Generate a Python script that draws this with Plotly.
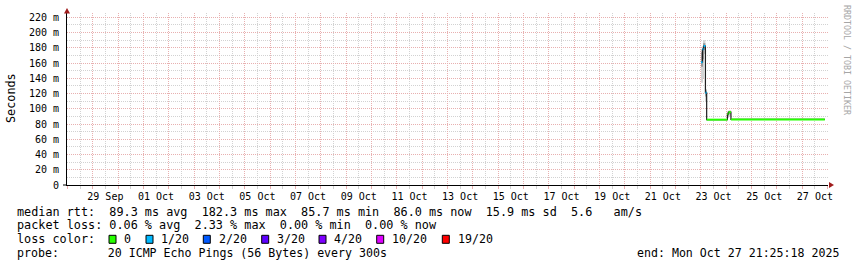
import plotly.graph_objects as go
import pandas as pd

# ---------------- data ----------------
step_start = ["2025-10-23 00:10:00", "2025-10-23 01:35:00", "2025-10-23 02:40:00", "2025-10-23 04:20:00",
              "2025-10-23 05:30:00", "2025-10-24 01:10:00", "2025-10-24 02:10:00", "2025-10-24 04:30:00"]
end_time = "2025-10-27 21:25:18"
median_ms = [161.0, 178.0, 182.3, 121.0, 85.7, 93.0, 95.5, 86.0]
loss_bucket = [1, 1, 1, 1, 0, 0, 0, 0]
smoke_lo = [134, 140, 172, 110, 85.4, 88, 90, 85.6]
smoke_hi = [178, 182, 190, 126, 86.3, 96, 98, 86.4]
core_lo = [155, 165, 180, 116, 85.6, 90, 93, 85.8]
core_hi = [174, 180, 186, 124, 86.0, 95, 97, 86.2]

loss_labels = ["0", "1/20", "2/20", "3/20", "4/20", "10/20", "19/20"]
loss_colors = ["#26ff00", "#00b8ff", "#0059ff", "#5e00ff", "#7e00ff", "#dd00ff", "#ff0000"]

x_label_days = ["2025-09-29", "2025-10-01", "2025-10-03", "2025-10-05", "2025-10-07",
                "2025-10-09", "2025-10-11", "2025-10-13", "2025-10-15", "2025-10-17",
                "2025-10-19", "2025-10-21", "2025-10-23", "2025-10-25", "2025-10-27"]
y_ticks = [0, 20, 40, 60, 80, 100, 120, 140, 160, 180, 200, 220]
y_tick_text = ["0", "20 m", "40 m", "60 m", "80 m", "100 m", "120 m", "140 m",
               "160 m", "180 m", "200 m", "220 m"]

rtt_stats = ["89.3", "182.3", "85.7", "86.0", "15.9"]
rtt_am_s = "5.6"
loss_stats = ["0.06", "2.33", "0.00", "0.00"]
probe_text = "20 ICMP Echo Pings (56 Bytes) every 300s"
end_text = "end: Mon Oct 27 21:25:18 2025"

x_range = ["2025-09-27 23:39:40", "2025-10-28 00:25:40"]
y_range = [0, 225.6]

# ---------------- layout helpers ----------------
L, R, T, B, W, H = 67, 29, 13, 82, 857, 267
PW, PH = W - L - R, H - T - B


def px(x):
    return (x - L) / PW


def py(y):
    return (H - B - y) / PH


MONO = "DejaVu Sans Mono"
GRID_GRAY = "#d2d2d2"
GRID_RED = "#e8b0b0"

edges = pd.to_datetime(step_start + [end_time], format="%Y-%m-%d %H:%M:%S")
starts = list(edges[:-1])
ends = list(edges[1:])
mids = [s + (e - s) / 2 for s, e in zip(starts, ends)]
widths = [(e - s).total_seconds() * 1000 for s, e in zip(starts, ends)]

fig = go.Figure()

# smoke
fig.add_trace(go.Bar(x=mids, y=[h - l for l, h in zip(smoke_lo, smoke_hi)], base=smoke_lo,
                     width=widths, marker=dict(color="#d4d4d4", line=dict(width=0)),
                     hoverinfo="skip"))
fig.add_trace(go.Bar(x=mids, y=[h - l for l, h in zip(core_lo, core_hi)], base=core_lo,
                     width=widths, marker=dict(color="#9a9a9a", line=dict(width=0)),
                     hoverinfo="skip"))

# median line
fig.add_trace(go.Scatter(x=list(edges), y=median_ms + [median_ms[-1]], mode="lines",
                         line=dict(color="#202020", width=1.2, shape="hv"), hoverinfo="skip"))

# loss-coloured segments
for b, col in enumerate(loss_colors):
    xs, ys = [], []
    for i, lb in enumerate(loss_bucket):
        if lb == b:
            xs += [starts[i], ends[i], None]
            ys += [median_ms[i], median_ms[i], None]
    if xs:
        fig.add_trace(go.Scatter(x=xs, y=ys, mode="lines", line=dict(color=col, width=2),
                                 hoverinfo="skip"))

# dummy trace for the label axis
fig.add_trace(go.Scatter(x=[x_range[0]], y=[None], xaxis="x2", mode="markers",
                         hoverinfo="skip"))

label_vals = [pd.Timestamp(d) + pd.Timedelta(hours=12) for d in x_label_days]

fig.update_layout(
    width=W, height=H, margin=dict(l=L, r=R, t=T, b=B),
    paper_bgcolor="white", plot_bgcolor="white", showlegend=False, barmode="overlay",
    font=dict(family=MONO, color="black"),
    xaxis=dict(type="date", range=x_range, dtick=86400000, tick0="2025-09-29",
               showticklabels=False, showgrid=True, gridcolor=GRID_RED, griddash="1px,1px",
               gridwidth=1, ticks="outside", ticklen=3, tickcolor=GRID_RED,
               minor=dict(dtick=43200000, tick0="2025-09-29 12:00", showgrid=True,
                          gridcolor=GRID_GRAY, griddash="1px,1px", ticks="outside",
                          ticklen=3, tickcolor=GRID_GRAY),
               showline=True, linecolor="black", linewidth=1, zeroline=False, fixedrange=True),
    xaxis2=dict(type="date", range=x_range, overlaying="x", side="bottom", anchor="y",
                tickvals=label_vals, tickformat="%d %b", showgrid=False, showline=False,
                ticks="", ticklabelstandoff=4, tickfont=dict(family=MONO, size=10, color="black"),
                zeroline=False),
    yaxis=dict(range=y_range, tickvals=y_ticks, ticktext=y_tick_text, showgrid=True,
               gridcolor=GRID_RED, griddash="1px,1px", gridwidth=1, ticks="",
               ticklabelstandoff=5, tickfont=dict(family=MONO, size=10, color="black"),
               minor=dict(dtick=10, showgrid=True, gridcolor=GRID_GRAY, griddash="1px,1px"),
               showline=True, linecolor="black", linewidth=1, zeroline=False),
)

ARROW = "#a01c1c"
shapes = [
    dict(type="path", xref="paper", yref="paper", fillcolor=ARROW, line=dict(width=0),
         path=f"M {px(829)} {py(182)} L {px(829)} {py(188)} L {px(834)} {py(185)} Z"),
    dict(type="path", xref="paper", yref="paper", fillcolor=ARROW, line=dict(width=0),
         path=f"M {px(64)} {py(13.5)} L {px(70)} {py(13.5)} L {px(67)} {py(8)} Z"),
    dict(type="line", xref="paper", yref="paper", x0=px(63), x1=px(67), y0=py(185), y1=py(185),
         line=dict(color="black", width=1)),
]

ann = []
LEG = 11.8


def text(x, y, s, size=LEG, anchor="left", color="black", angle=0):
    ann.append(dict(x=px(x), y=py(y), xref="paper", yref="paper", text=s.replace(" ", "\u00a0"),
                    showarrow=False, xanchor=anchor, yanchor="middle", textangle=angle,
                    font=dict(family=MONO, size=size, color=color), borderpad=0))


line_y = [211.7, 225.0, 239.3, 252.7]
rtt_line = ("median rtt:  {} ms avg  {} ms max  {} ms min  {} ms now  {} ms sd  {}   am/s"
            .format(*rtt_stats, rtt_am_s))
loss_line = "packet loss: {} % avg  {} % max  {} % min  {} % now".format(*loss_stats)
text(16, line_y[0], rtt_line)
text(16, line_y[1], loss_line)
text(16, line_y[2], "loss color:")
box_x = [109, 146, 203.3, 261.7, 319, 376.7, 442.3]
for bx, lab, col in zip(box_x, loss_labels, loss_colors):
    shapes.append(dict(type="rect", xref="paper", yref="paper", x0=px(bx), x1=px(bx + 7),
                       y0=py(243.3), y1=py(235.3), fillcolor=col,
                       line=dict(color="black", width=1)))
    text(bx + 14.3, line_y[2], lab, size=11.6)
text(16, line_y[3], "probe:       " + probe_text, size=11.6)
text(840, line_y[3], end_text, anchor="right", size=11.6)

text(11, 98, "Seconds", angle=-90)
ann[-1]["xanchor"] = "center"
text(847, 60, "RRDTOOL / TOBI OETIKER", size=8.3, color="#a6a6a6", angle=90)
ann[-1]["xanchor"] = "center"

fig.update_layout(shapes=shapes, annotations=ann)
fig.write_html("out.html")
